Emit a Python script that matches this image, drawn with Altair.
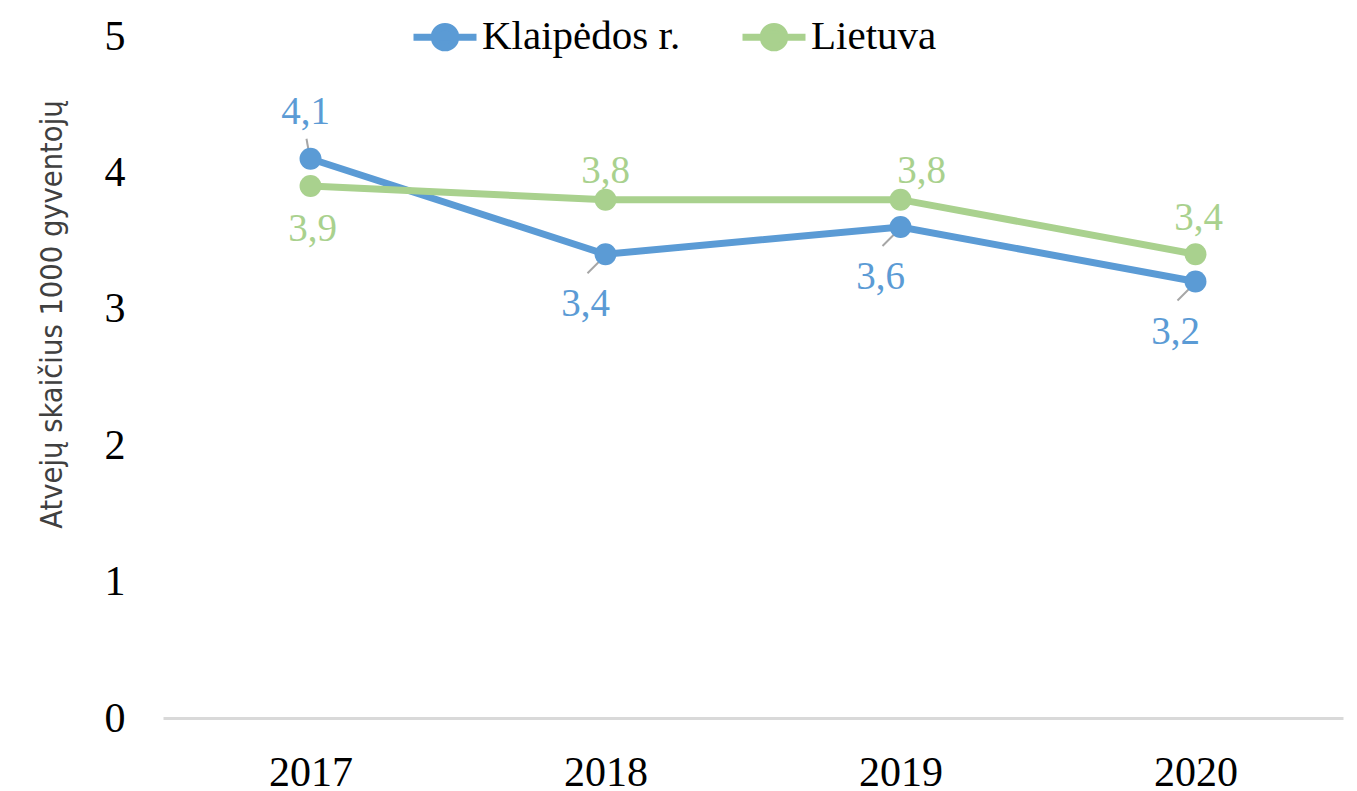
import altair as alt
import pandas as pd

years = ["2017", "2018", "2019", "2020"]
klaipeda = [4.1, 3.4, 3.6, 3.2]
lietuva = [3.9, 3.8, 3.8, 3.4]
series_names = ["Klaipėdos r.", "Lietuva"]
y_ticks = [0, 1, 2, 3, 4, 5]
colors = ["#5B9BD5", "#A9D18E"]
y_title = "Atvejų skaičius 1000 gyventojų"

rows = []
for yr, v in zip(years, klaipeda):
    rows.append({"year": yr, "series": series_names[0], "value": v})
for yr, v in zip(years, lietuva):
    rows.append({"year": yr, "series": series_names[1], "value": v})
df = pd.DataFrame(rows)

SERIF = "Liberation Serif"

x_enc = alt.X(
    "year:N",
    scale=alt.Scale(type="point", padding=0.5),
    axis=alt.Axis(
        title=None, labelAngle=0, labelAlign="center", labelBaseline="top",
        labelFont=SERIF, labelFontSize=42,
        labelColor="#000000", labelPadding=34, ticks=False,
        domainColor="#d9d9d9", domainWidth=3, grid=False,
    ),
)
y_enc = alt.Y(
    "value:Q",
    scale=alt.Scale(domain=[0, 5], nice=False, zero=True),
    axis=alt.Axis(
        values=y_ticks, format="d", title=y_title, grid=False, domain=False, ticks=False,
        labelFont=SERIF, labelFontSize=42, labelColor="#000000", labelPadding=38,
        titleFont="Liberation Sans Narrow, DejaVu Sans Condensed, Roboto",
        titleFontSize=30.5, titleFontWeight="normal", titleColor="#404040",
        titleX=-111, titleY=278, titleBaseline="middle", titleAngle=-90,
    ),
)

color_scale = alt.Scale(domain=series_names, range=colors)
legend_path = "M-1,0L1,0M-0.34,0A0.34,0.34,0,1,1,0.34,0A0.34,0.34,0,1,1,-0.34,0Z"
legend_def = alt.Legend(
    title=None, orient="none", direction="horizontal", legendX=247, legendY=-34,
    symbolType=legend_path, symbolSize=3969, symbolStrokeWidth=7,
    labelFont=SERIF, labelFontSize=41, labelColor="#000000", labelOffset=2,
    labelLimit=0, columnPadding=47,
)

base = alt.Chart(df).encode(x=x_enc, y=y_enc)

lines = base.mark_line(strokeWidth=7).encode(
    stroke=alt.Stroke("series:N", scale=color_scale, legend=legend_def)
)
points = base.mark_point(filled=True, size=480, opacity=1, strokeWidth=0).encode(
    fill=alt.Fill("series:N", scale=color_scale, legend=legend_def),
    stroke=alt.Stroke("series:N", scale=color_scale, legend=legend_def),
)


def leader(series, yrs, xo, yo, x2o, y2o):
    return (
        alt.Chart(df)
        .transform_filter(alt.FieldEqualPredicate(field="series", equal=series))
        .transform_filter(alt.FieldOneOfPredicate(field="year", oneOf=yrs))
        .mark_rule(color="#a6a6a6", strokeWidth=2, xOffset=xo, yOffset=yo,
                   x2Offset=x2o, y2Offset=y2o)
        .encode(x=x_enc, x2=alt.X2("year"), y=y_enc, y2=alt.Y2("value"))
    )


def labels(series, yrs, color, dx, dy):
    return (
        alt.Chart(df)
        .transform_filter(alt.FieldEqualPredicate(field="series", equal=series))
        .transform_filter(alt.FieldOneOfPredicate(field="year", oneOf=yrs))
        .transform_calculate(lab="replace(format(datum.value, '.1f'), '.', ',')")
        .mark_text(font=SERIF, fontSize=39, color=color, dx=dx, dy=dy,
                   baseline="middle", align="center")
        .encode(x=x_enc, y=y_enc, text="lab:N")
    )


layers = [
    leader(series_names[0], ["2017"], -4, -20, -1, -3),
    leader(series_names[0], ["2018", "2019", "2020"], -18, 19, -1, 2),
    lines,
    points,
    labels(series_names[0], ["2017"], colors[0], -5, -47),
    labels(series_names[0], ["2018", "2019", "2020"], colors[0], -20, 50),
    labels(series_names[1], ["2017"], colors[1], 2, 43),
    labels(series_names[1], ["2018"], colors[1], 0, -29),
    labels(series_names[1], ["2019"], colors[1], 21, -29),
    labels(series_names[1], ["2020"], colors[1], 3, -36),
]

chart = (
    alt.layer(*layers)
    .properties(
        width=1180, height=682,
        autosize=alt.AutoSizeParams(type="none"),
        padding={"left": 155, "top": 28, "right": 6, "bottom": 84},
    )
    .configure_view(stroke=None)
)

chart.save("out.html", embed_options={"renderer": "svg", "actions": False})
